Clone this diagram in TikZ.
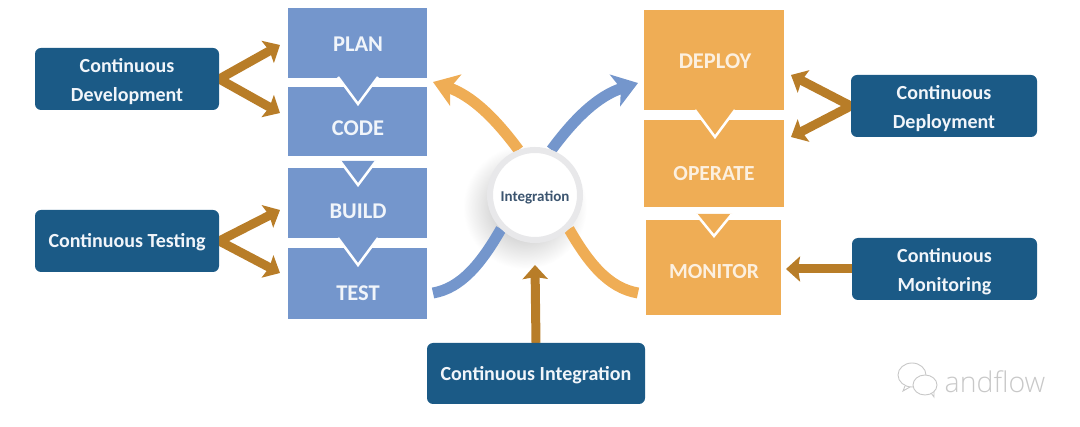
\documentclass[tikz,border=0pt]{standalone}
\usepackage{fontspec}
\setmainfont{Carlito}
\newfontfamily\markfont{Open Sans Light}
\usetikzlibrary{arrows.meta,backgrounds}

\definecolor{devBlue}{HTML}{7496CC}
\definecolor{devOrange}{HTML}{EFAD55}
\definecolor{devBrown}{HTML}{B87D28}
\definecolor{devNavy}{HTML}{1B5A86}
\definecolor{devRing}{HTML}{E8E8EA}
\definecolor{devInk}{HTML}{3C5570}
\definecolor{devMark}{HTML}{C8C8C8}

\newcommand{\lowered}[2]{\raisebox{-#1pt}[0pt][0pt]{#2}}

\tikzset{
  stagebox/.style={minimum width=#1,inner sep=0pt,anchor=north west},
  bluetext/.style={text=white!90!devBlue,font=\fontsize{22.5}{26}\selectfont\bfseries},
  orangetext/.style={text=white!82!devOrange,font=\fontsize{21.5}{26}\selectfont\bfseries},
  practice/.style={draw=none,fill=devNavy,rounded corners=6pt,text=white!90!devBlue,align=center,inner sep=0pt,
    font=\fontsize{20}{29}\selectfont\bfseries},
  brownarrow/.style={draw=devBrown,line width=9pt,-{Stealth[length=14pt,width=25pt,inset=2pt]}},
  curvearrow/.style={draw=#1,line width=11pt},
  curvehead/.style={-{Stealth[length=24pt,width=33pt,inset=6pt]}},
  notch/.style={draw=white,line width=2.5pt,line join=miter},
  bubble/.style={draw=devMark,line width=0.9pt,fill=white}
}

\begin{document}
\begin{tikzpicture}[x=1pt,y=-1pt]
  \useasboundingbox (0,0) rectangle (1080,427);

  % stages on the left
  \node[fill=devBlue,stagebox=139pt,minimum height=70pt] (plan) at (288,8) {};
  \node[fill=devBlue,stagebox=139pt,minimum height=69pt] (code) at (288,87) {};
  \node[fill=devBlue,stagebox=139pt,minimum height=70pt] (build) at (288,168) {};
  \node[fill=devBlue,stagebox=139pt,minimum height=71pt] (test) at (288,248) {};

  % stages on the right
  \node[fill=devOrange,stagebox=140pt,minimum height=100pt] (deploy) at (644,10) {};
  \node[fill=devOrange,stagebox=140pt,minimum height=87pt] (operate) at (644,120) {};
  \node[fill=devOrange,stagebox=135pt,minimum height=95pt] (monitor) at (646,220) {};

  % chevrons between stages
  \foreach \cx/\htop/\wid/\tip/\col in {358/77/20/104/devBlue,358/161/18/185/devBlue,358/238/20/265/devBlue,
      715/110/20/137/devOrange,714/214/18/236/devOrange} {
    \path[notch,fill=\col] (\cx-\wid,\htop) -- (\cx,\tip) -- (\cx+\wid,\htop);
  }
  \node[bluetext] (plantext) at (358,44) {PLAN};
  \node[bluetext] (codetext) at (358,128) {CODE};
  \node[bluetext] (buildtext) at (358,211) {BUILD};
  \node[bluetext] (testtext) at (358,293) {TEST};
  \node[orangetext,font=\fontsize{22.5}{26}\selectfont\bfseries] (deploytext) at (715,61) {DEPLOY};
  \node[orangetext] (operatetext) at (714,174) {OPERATE};
  \node[orangetext] (monitortext) at (714,272) {MONITOR};

  % practices
  \node[practice,minimum width=184pt,minimum height=62pt] (development) at (127,79) {\lowered{8}{Continuous}\\\lowered{8}{Development}};
  \node[practice,minimum width=184pt,minimum height=62pt] (testing) at (127,241) {\lowered{7}{Continuous Testing}};
  \node[practice,minimum width=186pt,minimum height=62pt] (deployment) at (944,106) {\lowered{8}{Continuous}\\\lowered{8}{Deployment}};
  \node[practice,minimum width=185pt,minimum height=62pt] (monitoring) at (944.5,269) {\lowered{8}{Continuous}\\\lowered{8}{Monitoring}};
  \node[practice,minimum width=218pt,minimum height=61pt] (integration) at (536,373.5) {\lowered{7}{Continuous Integration}};

  % hub
  \node[circle,fill=white,draw=devRing,line width=6pt,minimum size=90pt,inner sep=0pt,text=devInk,
    font=\fontsize{15}{18}\selectfont\bfseries] (hub) at (535,195) {\lowered{7}{Integration}};

  \coordinate (planend) at (433,82);
  \coordinate (deployend) at (638,83);
  \coordinate (testend) at (433,293);
  \coordinate (monitorend) at (638,293);
  \coordinate (devup) at (280,45);
  \coordinate (devdown) at (280,113);
  \coordinate (testup) at (280,210);
  \coordinate (testdown) at (280,273);
  \coordinate (depup) at (791,75);
  \coordinate (depdown) at (791,137);
  \coordinate (monend) at (786,269);
  \coordinate (hubend) at (535,265);

  \begin{scope}[on background layer]
    \shade[inner color=black!32,outer color=white] (525,207) circle (62pt);
    \draw[curvearrow=devOrange,curvehead] (hub.110) .. controls (495,118) and (472,96) .. (planend);
    \draw[curvearrow=devBlue,curvehead] (hub.70) .. controls (575,118) and (598,96) .. (deployend);
    \draw[curvearrow=devBlue] (hub.225) .. controls (482,262) and (462,288) .. (testend);
    \draw[curvearrow=devOrange] (hub.-45) .. controls (588,262) and (608,288) .. (monitorend);
    \draw[brownarrow] (development.east) -- (devup);
    \draw[brownarrow] (development.east) -- (devdown);
    \draw[brownarrow] (testing.east) -- (testup);
    \draw[brownarrow] (testing.east) -- (testdown);
    \draw[brownarrow] (deployment.west) -- (depup);
    \draw[brownarrow] (deployment.west) -- (depdown);
    \draw[brownarrow] (monitoring.west) -- (monend);
    \draw[brownarrow] (integration.north) -- (hubend);
  \end{scope}

  % watermark
  \draw[bubble] (905,386) -- (903,391) -- (910,387);
  \draw[bubble] (912,375) ellipse (14pt and 12pt);
  \draw[bubble] (931,393) -- (934,397) -- (934,391);
  \draw[bubble] (925,385) ellipse (12pt and 10pt);
  \node[text=devMark,font=\markfont\fontsize{28.5}{30}\selectfont] (mark) at (995,382) {andflow};
\end{tikzpicture}
\end{document}
